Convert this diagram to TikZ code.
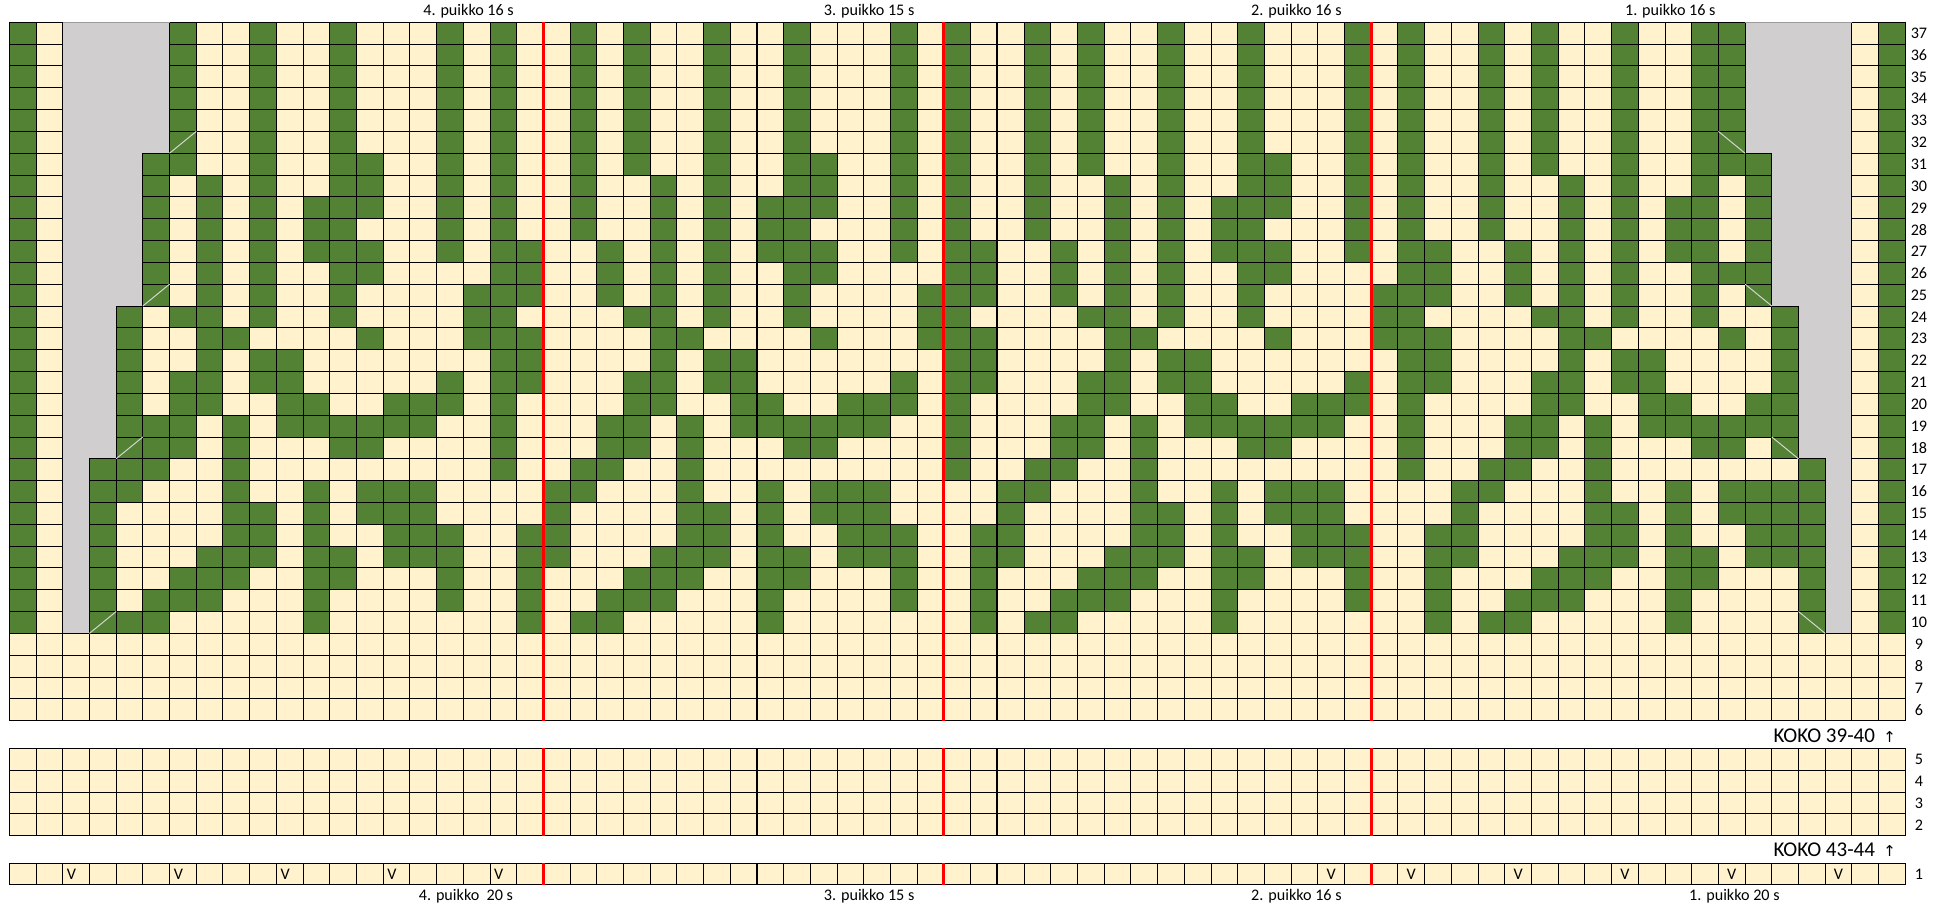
\documentclass[tikz,border=0pt]{standalone}
\usepackage{fontspec}
\setmainfont{Carlito}
\newfontfamily\arrowfont{DejaVu Sans}
\definecolor{kgreen}{HTML}{548235}
\definecolor{kcream}{HTML}{FFF2CC}
\definecolor{kgray}{HTML}{D0CECE}
\tikzset{
  gridline/.style={black, line width=0.5pt},
  puikkoline/.style={red, line width=1.6pt},
  thickline/.style={black, line width=1.1pt},
  rownum/.style={font=\fontsize{8.6}{10}\selectfont, anchor=center},
  lbl/.style={font=\fontsize{8.6}{10}\selectfont, anchor=base},
  koko/.style={font=\fontsize{11.2}{13}\selectfont, anchor=base east},
  vmark/.style={font=\fontsize{8.6}{10}\selectfont, inner sep=0pt},
  decline/.style={white!85!black, line width=0.5pt}
}
\begin{document}
\begin{tikzpicture}[x=0.5cm, y=0.40865cm]
    \useasboundingbox[fill=white] (-0.348,0) rectangle (72.262,41.558);

    % Pattern rows 6-37
    \begin{scope}[shift={(0,2.536)}]
    \fill[kcream] (0,6) rectangle (71,38);
    \fill[kgreen] (0,10) rectangle (1,38);
    \fill[kgreen] (70,10) rectangle (71,38);
    \foreach \r in {32,...,37}
        \foreach \c in {6,9,12,16,18,21,23,26,29,33,35,38,40,43,46,50,52,55,57,60,63,64}
            \fill[kgreen] (\c,\r) rectangle ++(1,1);
    \foreach \r/\cols in {
        31/{5,6,9,12,13,16,18,21,23,26,29,30,33,35,38,40,43,46,47,50,52,55,57,60,63,64,65},
        30/{5,7,9,12,13,16,18,21,24,26,29,30,33,35,38,41,43,46,47,50,52,55,58,60,63,65},
        29/{5,7,9,11,12,13,16,18,21,24,26,28,29,30,33,35,38,41,43,45,46,47,50,52,55,58,60,62,63,65},
        28/{5,7,9,11,12,16,18,21,24,26,28,29,33,35,38,41,43,45,46,50,52,55,58,60,62,63,65},
        27/{5,7,9,11,12,13,16,18,19,22,24,26,28,29,30,33,35,36,39,41,43,45,46,47,50,52,53,56,58,60,62,63,65},
        26/{5,7,9,12,13,18,19,22,24,26,29,30,35,36,39,41,43,46,47,52,53,56,58,60,63,64,65},
        25/{5,7,9,12,17,18,19,22,24,26,29,34,35,36,39,41,43,46,51,52,53,56,58,60,63,65},
        24/{4,6,7,9,12,17,18,23,24,26,29,34,35,40,41,43,46,51,52,57,58,60,63,66},
        23/{4,7,8,13,17,18,19,24,25,30,34,35,36,41,42,47,51,52,53,58,59,64,66},
        22/{4,7,9,10,18,19,24,26,27,35,36,41,43,44,52,53,58,60,61,66},
        21/{4,6,7,9,10,16,18,19,23,24,26,27,33,35,36,40,41,43,44,50,52,53,57,58,60,61,66},
        20/{4,6,7,10,11,14,15,16,18,23,24,27,28,31,32,33,35,40,41,44,45,48,49,50,52,57,58,61,62,65,66},
        19/{4,5,6,8,10,11,12,13,14,15,18,22,23,25,27,28,29,30,31,32,35,39,40,42,44,45,46,47,48,49,52,56,57,59,61,62,63,64,65,66},
        18/{4,5,6,8,12,13,18,22,23,25,29,30,35,39,40,42,46,47,52,56,57,59,63,64,66},
        17/{3,4,5,8,18,21,22,25,35,38,39,42,52,55,56,59,67},
        16/{3,4,8,11,13,14,15,20,21,25,28,30,31,32,37,38,42,45,47,48,49,54,55,59,62,64,65,66,67},
        15/{3,8,9,11,13,14,15,20,25,26,28,30,31,32,37,42,43,45,47,48,49,54,59,60,62,64,65,66,67},
        14/{3,8,9,11,14,15,16,19,20,25,26,28,31,32,33,36,37,42,43,45,48,49,50,53,54,59,60,62,65,66,67},
        13/{3,7,8,9,11,12,14,15,16,19,20,24,25,26,28,29,31,32,33,36,37,41,42,43,45,46,48,49,50,53,54,58,59,60,62,63,65,66,67},
        12/{3,6,7,8,11,12,16,19,23,24,25,28,29,33,36,40,41,42,45,46,50,53,57,58,59,62,63,67},
        11/{3,5,6,7,11,16,19,22,23,24,28,33,36,39,40,41,45,50,53,56,57,58,62,67},
        10/{3,4,5,11,19,21,22,28,36,38,39,45,53,55,56,62,67}} {
        \foreach \c in \cols
            \fill[kgreen] (\c,\r) rectangle ++(1,1);
    }
    \foreach \c in {0,...,71} \draw[gridline] (\c,6) -- (\c,38);
    \foreach \r in {6,...,38} \draw[gridline] (0,\r) -- (71,\r);

    % Gray sides
    \fill[kgray] (2,10) -- (2,38) -- (6,38) -- (6,32) -- (5,32) -- (5,25) -- (4,25)
        -- (4,18) -- (3,18) -- (3,10) -- cycle;
    \fill[kgray] (69,10) -- (69,38) -- (65,38) -- (65,32) -- (66,32) -- (66,25) -- (67,25)
        -- (67,18) -- (68,18) -- (68,10) -- cycle;
    \draw[gridline] (6,38) -- (6,32) -- (5,32) -- (5,25) -- (4,25) -- (4,18) -- (3,18)
        -- (3,10) -- (2,10) -- (2,38);
    \draw[gridline] (65,38) -- (65,32) -- (66,32) -- (66,25) -- (67,25) -- (67,18) -- (68,18)
        -- (68,10) -- (69,10) -- (69,38);
    \draw[kgray!75!black, line width=0.3pt] (2,38) -- (6,38) (65,38) -- (69,38);

    % Decreases
    \draw[decline] (6,32) -- (7,33) (5,25) -- (6,26) (4,18) -- (5,19) (3,10) -- (4,11);
    \draw[decline] (64,33) -- (65,32) (65,26) -- (66,25) (66,19) -- (67,18) (67,11) -- (68,10);

    \foreach \c in {28,37} \draw[thickline] (\c,6) -- (\c,38);
    \foreach \c in {20,35,51} \draw[puikkoline] (\c,6) -- (\c,38);
    \foreach \r in {6,...,37} \node[rownum] (rn\r) at (71.51,\r+0.5) {\r};
    \end{scope}

    % Rows 2-5
    \begin{scope}[shift={(0,1.267)}]
    \fill[kcream] (0,2) rectangle (71,6);
    \foreach \c in {0,...,71} \draw[gridline] (\c,2) -- (\c,6);
    \foreach \r in {2,...,6} \draw[gridline] (0,\r) -- (71,\r);
    \foreach \c in {28,37} \draw[thickline] (\c,2) -- (\c,6);
    \foreach \c in {20,35,51} \draw[puikkoline] (\c,2) -- (\c,6);
    \foreach \r in {2,...,5} \node[rownum] (rn\r) at (71.51,\r+0.5) {\r};
    \end{scope}

    % Row 1
    \begin{scope}[shift={(0,0.01)}]
    \fill[kcream] (0,1) rectangle (71,2);
    \foreach \c in {0,...,71} \draw[gridline] (\c,1) -- (\c,2);
    \draw[gridline] (0,1) -- (71,1) (0,2) -- (71,2);
    \foreach \c in {28,37} \draw[thickline] (\c,1) -- (\c,2);
    \foreach \c in {20,35,51} \draw[puikkoline] (\c,1) -- (\c,2);
    \foreach \c in {2,6,10,14,18} \node[vmark] (v\c) at (\c+0.33,1.5) {V};
    \foreach \c in {49,52,56,60,64,68} \node[vmark] (v\c) at (\c+0.5,1.5) {V};
    \node[rownum] (rn1) at (71.51,1.5) {1};
    \end{scope}

    % Needle labels
    \node[lbl] (top4) at (17.2,40.84) {4. puikko 16 s};
    \node[lbl] (top3) at (32.2,40.84) {3. puikko 15 s};
    \node[lbl] (top2) at (48.2,40.84) {2. puikko 16 s};
    \node[lbl] (top1) at (62.2,40.84) {1. puikko 16 s};
    \node[lbl] (bot4) at (17.1,0.29) {4. puikko\ \ 20 s};
    \node[lbl] (bot3) at (32.2,0.29) {3. puikko 15 s};
    \node[lbl] (bot2) at (48.2,0.29) {2. puikko 16 s};
    \node[lbl] (bot1) at (64.6,0.29) {1. puikko 20 s};

    % Sizes
    \node[koko] (koko3940) at (70.9,7.52) {KOKO 39-40\hspace{0.4em}{\arrowfont\fontsize{8}{9}\selectfont ↑}};
    \node[koko] (koko4344) at (70.9,2.30) {KOKO 43-44\hspace{0.4em}{\arrowfont\fontsize{8}{9}\selectfont ↑}};
\end{tikzpicture}
\end{document}
